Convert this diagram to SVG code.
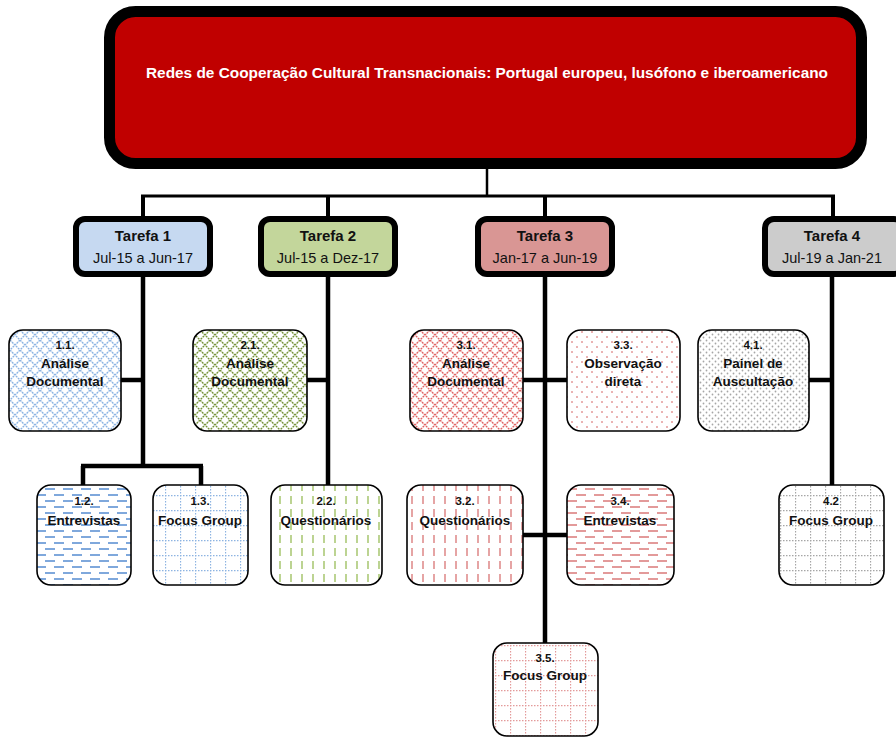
<svg xmlns="http://www.w3.org/2000/svg" width="896" height="738" viewBox="0 0 896 738">
<style>
.conn{stroke:#000;fill:none;stroke-linecap:butt}
.box{stroke:#000;stroke-width:1.6}
.bg{fill:#fff}
.tar{stroke:#000;stroke-width:6}
.num{font-family:"Liberation Sans",Arial,sans-serif;font-size:11.5px;font-weight:bold;text-anchor:middle;fill:#111}
.lbl{font-family:"Liberation Sans",Arial,sans-serif;font-size:13.5px;font-weight:bold;text-anchor:middle;fill:#111}
.th{font-family:"Liberation Sans",Arial,sans-serif;font-size:15px;font-weight:bold;text-anchor:middle;fill:#111}
.td{font-family:"Liberation Sans",Arial,sans-serif;font-size:14.5px;text-anchor:middle;fill:#111}
.title{font-family:"Liberation Sans",Arial,sans-serif;font-size:14.5px;font-weight:bold;text-anchor:middle;fill:#fff}
</style>
<defs>
<pattern id="xhBlue" width="10" height="10" patternUnits="userSpaceOnUse"><path d="M0,0L10,10M10,0L0,10" stroke="#8DB4E2" stroke-width="1.4" stroke-dasharray="2,0.8"/></pattern>
<pattern id="xhGreen" width="10" height="10" patternUnits="userSpaceOnUse"><path d="M0,0L10,10M10,0L0,10" stroke="#77933C" stroke-width="1.4" stroke-dasharray="2,0.8"/></pattern>
<pattern id="xhRed" width="10" height="10" patternUnits="userSpaceOnUse"><path d="M0,0L10,10M10,0L0,10" stroke="#E06666" stroke-width="1.4" stroke-dasharray="2,0.8"/></pattern>
<pattern id="hdBlue" width="18" height="12" patternUnits="userSpaceOnUse"><path d="M0,3h10M9,9h9M0,9h1" stroke="#7FA8DC" stroke-width="1.8"/></pattern>
<pattern id="hdRed" width="18" height="12" patternUnits="userSpaceOnUse"><path d="M0,3h10M9,9h9M0,9h1" stroke="#E39A9A" stroke-width="1.8"/></pattern>
<pattern id="vdGreen" width="11" height="13" patternUnits="userSpaceOnUse"><path d="M5,2v8" stroke="#B5CF86" stroke-width="1.8"/></pattern>
<pattern id="vdRed" width="11" height="13" patternUnits="userSpaceOnUse"><path d="M5,2v8" stroke="#E39A9A" stroke-width="1.8"/></pattern>
<pattern id="gdBlue" width="15" height="15" patternUnits="userSpaceOnUse"><path d="M0,0.5H15M0.5,0V15" stroke="#8DB4E2" stroke-width="1.3" stroke-dasharray="1.5,1.5"/></pattern>
<pattern id="gdRed" width="15" height="15" patternUnits="userSpaceOnUse"><path d="M0,0.5H15M0.5,0V15" stroke="#E39A9A" stroke-width="1.3" stroke-dasharray="1.5,1.5"/></pattern>
<pattern id="gdGrey" width="15" height="15" patternUnits="userSpaceOnUse"><path d="M0,0.5H15M0.5,0V15" stroke="#A6A6A6" stroke-width="1.3" stroke-dasharray="1.5,1.5"/></pattern>
<pattern id="dtRed" width="10" height="10" patternUnits="userSpaceOnUse"><circle cx="2" cy="2" r="1" fill="#E39A9A"/><circle cx="7" cy="7" r="1" fill="#E39A9A"/></pattern>
<pattern id="dtGrey" width="6" height="6" patternUnits="userSpaceOnUse"><circle cx="1.5" cy="1.5" r="0.9" fill="#A6A6A6"/><circle cx="4.5" cy="4.5" r="0.9" fill="#A6A6A6"/></pattern>
</defs>

<g id="connectors">
<path class="conn" stroke-width="2.5" d="M487,166V196"/>
<path class="conn" stroke-width="3" d="M141,196H835"/>
<path class="conn" stroke-width="4" d="M143,196V219M328,196V219M545,196V219M833,196V219"/>
<path class="conn" stroke-width="4.5" d="M143,274V466M81,466H203M83,466V486M201,466V486M119,380H143"/>
<path class="conn" stroke-width="4.5" d="M328,274V486M306,380H328"/>
<path class="conn" stroke-width="4.5" d="M545,274V644M522,380H568M522,535H568"/>
<path class="conn" stroke-width="4.5" d="M832,274V486M808,380H832"/>
</g>

<g id="root">
<rect x="109.5" y="11.5" width="752" height="152" rx="26" fill="#C00000" stroke="#000" stroke-width="11"/>
<text class="title" x="487" y="78" textLength="682" lengthAdjust="spacingAndGlyphs">Redes de Cooperação Cultural Transnacionais: Portugal europeu, lusófono e iberoamericano</text>
</g>

<g id="tarefa1"><rect class="tar" x="76" y="219" width="134" height="55" rx="9" fill="#C6D9F1"/><text class="th" x="143" y="241">Tarefa 1</text><text class="td" x="143" y="263">Jul-15 a Jun-17</text></g>
<g id="tarefa2"><rect class="tar" x="261" y="219" width="134" height="55" rx="9" fill="#C3D69B"/><text class="th" x="328" y="241">Tarefa 2</text><text class="td" x="328" y="263">Jul-15 a Dez-17</text></g>
<g id="tarefa3"><rect class="tar" x="478" y="219" width="134" height="55" rx="9" fill="#D99694"/><text class="th" x="545" y="241">Tarefa 3</text><text class="td" x="545" y="263">Jan-17 a Jun-19</text></g>
<g id="tarefa4"><rect class="tar" x="765" y="219" width="138" height="55" rx="9" fill="#CCCCCC"/><text class="th" x="832" y="241">Tarefa 4</text><text class="td" x="832" y="263">Jul-19 a Jan-21</text></g>

<g id="n11"><rect class="bg" x="9" y="330" width="112" height="101" rx="14"/><rect class="box" x="9" y="330" width="112" height="101" rx="14" fill="url(#xhBlue)"/><text class="num" x="65" y="349">1.1.</text><text class="lbl" x="65" y="368">Análise</text><text class="lbl" x="65" y="386">Documental</text></g>
<g id="n21"><rect class="bg" x="193" y="330" width="114" height="101" rx="14"/><rect class="box" x="193" y="330" width="114" height="101" rx="14" fill="url(#xhGreen)"/><text class="num" x="250" y="349">2.1.</text><text class="lbl" x="250" y="368">Análise</text><text class="lbl" x="250" y="386">Documental</text></g>
<g id="n31"><rect class="bg" x="410" y="330" width="113" height="101" rx="14"/><rect class="box" x="410" y="330" width="113" height="101" rx="14" fill="url(#xhRed)"/><text class="num" x="466" y="349">3.1.</text><text class="lbl" x="466" y="368">Análise</text><text class="lbl" x="466" y="386">Documental</text></g>
<g id="n33"><rect class="bg" x="567" y="330" width="113" height="101" rx="14"/><rect class="box" x="567" y="330" width="113" height="101" rx="14" fill="url(#dtRed)"/><text class="num" x="623" y="349">3.3.</text><text class="lbl" x="623" y="368">Observação</text><text class="lbl" x="623" y="386">direta</text></g>
<g id="n41"><rect class="bg" x="698" y="330" width="111" height="101" rx="14"/><rect class="box" x="698" y="330" width="111" height="101" rx="14" fill="url(#dtGrey)"/><text class="num" x="753" y="349">4.1.</text><text class="lbl" x="753" y="368">Painel de</text><text class="lbl" x="753" y="386">Auscultação</text></g>

<g id="n12"><rect class="bg" x="37" y="485" width="94" height="100" rx="14"/><rect class="box" x="37" y="485" width="94" height="100" rx="14" fill="url(#hdBlue)"/><text class="num" x="84" y="505">1.2.</text><text class="lbl" x="84" y="525">Entrevistas</text></g>
<g id="n13"><rect class="bg" x="153" y="485" width="95" height="100" rx="14"/><rect class="box" x="153" y="485" width="95" height="100" rx="14" fill="url(#gdBlue)"/><text class="num" x="200" y="505">1.3.</text><text class="lbl" x="200" y="525">Focus Group</text></g>
<g id="n22"><rect class="bg" x="271" y="485" width="111" height="100" rx="14"/><rect class="box" x="271" y="485" width="111" height="100" rx="14" fill="url(#vdGreen)"/><text class="num" x="326" y="505">2.2.</text><text class="lbl" x="326" y="525">Questionários</text></g>
<g id="n32"><rect class="bg" x="407" y="485" width="116" height="100" rx="14"/><rect class="box" x="407" y="485" width="116" height="100" rx="14" fill="url(#vdRed)"/><text class="num" x="465" y="505">3.2.</text><text class="lbl" x="465" y="525">Questionários</text></g>
<g id="n34"><rect class="bg" x="567" y="485" width="107" height="100" rx="14"/><rect class="box" x="567" y="485" width="107" height="100" rx="14" fill="url(#hdRed)"/><text class="num" x="620" y="505">3.4.</text><text class="lbl" x="620" y="525">Entrevistas</text></g>
<g id="n42"><rect class="bg" x="779" y="485" width="105" height="100" rx="14"/><rect class="box" x="779" y="485" width="105" height="100" rx="14" fill="url(#gdGrey)"/><text class="num" x="831" y="505">4.2</text><text class="lbl" x="831" y="525">Focus Group</text></g>
<g id="n35"><rect class="bg" x="493" y="643" width="105" height="93" rx="14"/><rect class="box" x="493" y="643" width="105" height="93" rx="14" fill="url(#gdRed)"/><text class="num" x="545" y="662">3.5.</text><text class="lbl" x="545" y="680">Focus Group</text></g>
</svg>
